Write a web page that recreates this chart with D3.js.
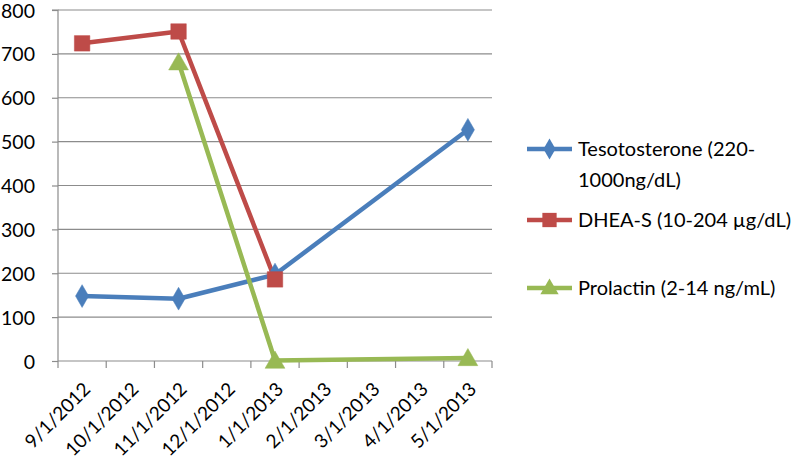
<!DOCTYPE html>
<html><head><meta charset="utf-8">
<script src="https://cdn.jsdelivr.net/npm/d3@7"></script>
<style>body{margin:0;background:#fff}svg{display:block}text{font-family:Lato,"Open Sans",sans-serif;fill:#000}</style>
</head><body><svg id="c" width="792" height="463"></svg>
<script>
const months = ["9/1/2012","10/1/2012","11/1/2012","12/1/2012","1/1/2013","2/1/2013","3/1/2013","4/1/2013","5/1/2013"];
const yTicks = [0,100,200,300,400,500,600,700,800];
const testosterone = [["9/1/2012",148],["11/1/2012",142],["1/1/2013",197],["5/1/2013",527]];
const dheas = [["9/1/2012",724],["11/1/2012",751],["1/1/2013",186]];
const prolactin = [["11/1/2012",681],["1/1/2013",1],["5/1/2013",7]];
const seriesNames = ["Tesotosterone (220-\n1000ng/dL)","DHEA-S (10-204 \u00b5g/dL)","Prolactin (2-14 ng/mL)"];
const colors = ["#4a7ebb","#be4b48","#98b954"];

const svg = d3.select("#c");
const L=58, R=492, T=10, B=361;
const FS = 20;
const x = d3.scaleBand().domain(months).range([L,R]);
const y = d3.scaleLinear().domain([0,800]).range([B,T]);

// gridlines
svg.append("g").selectAll("line").data(yTicks.filter(d=>d>0)).join("line")
  .attr("x1",L).attr("x2",R).attr("y1",d=>y(d)).attr("y2",d=>y(d))
  .attr("stroke","#8c8c8c").attr("stroke-width",1.2);

// y axis
const ya = svg.append("g").attr("transform",`translate(${L},0)`).call(d3.axisLeft(y).tickValues(yTicks).tickSize(6).tickPadding(17));
ya.select(".domain").attr("stroke","#8c8c8c").attr("stroke-width",1.2).attr("d",`M-6,${T}H0V${B}`);
ya.selectAll(".tick line").attr("stroke","#8c8c8c").attr("stroke-width",1.2);
ya.selectAll("text").attr("font-size",19.5).attr("font-family","Lato").attr("fill","#000").attr("dy","0.36em");

// x axis
const xa = svg.append("g").attr("transform",`translate(0,${B})`);
xa.append("line").attr("x1",L).attr("x2",R).attr("stroke","#8c8c8c").attr("stroke-width",1.2);
const edges = months.map(m=>x(m)).concat([x(months[months.length-1])+x.bandwidth()]);
xa.selectAll("line.t").data(edges).join("line").attr("class","t")
  .attr("x1",d=>d).attr("x2",d=>d).attr("y1",0).attr("y2",7).attr("stroke","#8c8c8c").attr("stroke-width",1.2);
xa.selectAll("text").data(months).join("text")
  .attr("transform",d=>`translate(${x(d)+x.bandwidth()/2},${20}) rotate(-45)`)
  .attr("text-anchor","end").attr("dy","0.71em").attr("font-size",19).text(d=>d);

const sym = [d3.symbolDiamond, d3.symbolSquare, d3.symbolTriangle];
const symSize = [150, 240, 170];
const all = [testosterone, dheas, prolactin];
const line = d3.line().x(d=>x(d[0])+x.bandwidth()/2).y(d=>y(d[1]));
all.forEach((s,i)=>{
  svg.append("path").attr("d",line(s)).attr("fill","none").attr("stroke",colors[i]).attr("stroke-width",4.5).attr("stroke-linejoin","round");
});
all.forEach((s,i)=>{
  svg.append("g").selectAll("path").data(s).join("path")
    .attr("transform",d=>`translate(${x(d[0])+x.bandwidth()/2},${y(d[1])+(i==2?2:0)})`)
    .attr("d",d3.symbol(sym[i],symSize[i])()).attr("fill",colors[i]).attr("stroke",colors[i]).attr("stroke-width",0.5);
});

// legend
const legY = [149,220,288];
seriesNames.forEach((n,i)=>{
  const g = svg.append("g").attr("transform",`translate(0,${legY[i]})`);
  g.append("line").attr("x1",527).attr("x2",572).attr("stroke",colors[i]).attr("stroke-width",4.5);
  g.append("path").attr("transform",`translate(549.5,${i==2?1:0})`).attr("d",d3.symbol(sym[i],symSize[i]*0.85)()).attr("fill",colors[i]);
  const t = g.append("text").attr("x",578).attr("y",0).attr("font-size",FS);
  n.split("\n").forEach((p,j)=>t.append("tspan").attr("x",578).attr("dy",j==0?"0.35em":"1.55em").text(p));
});
</script></body></html>
